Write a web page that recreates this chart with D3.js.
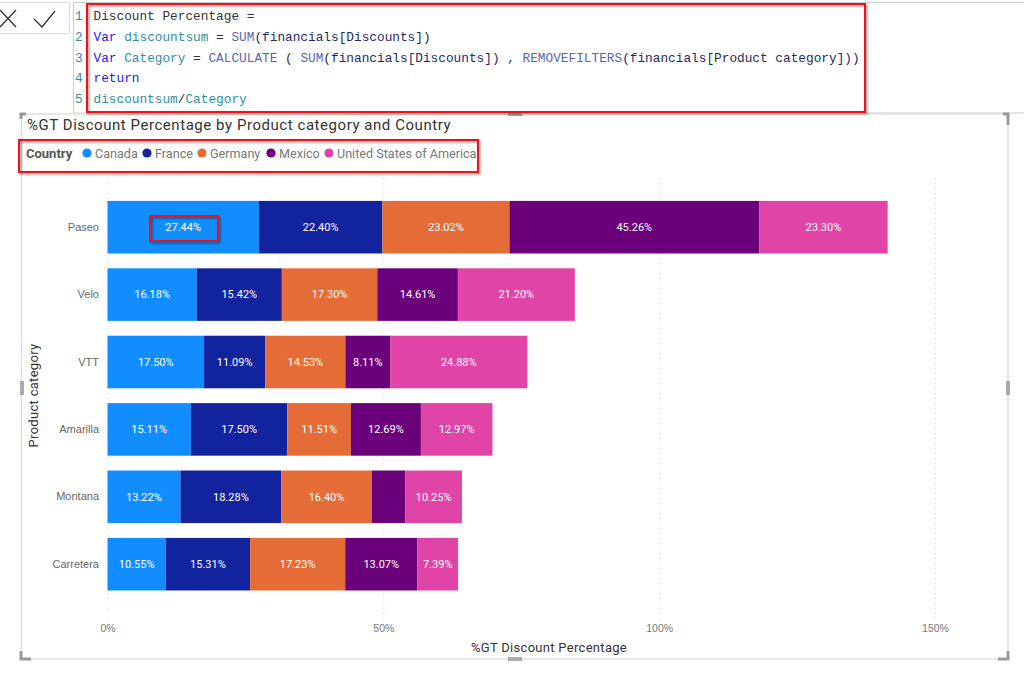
<!DOCTYPE html>
<head>
  <meta charset="utf-8">
  <script src="https://cdn.jsdelivr.net/npm/d3@7"></script>
  <style>
    body { margin: 0; background: #fff; overflow: hidden; }
    svg { display: block; font-family: Roboto, sans-serif; }
    .code text { font-family: "Liberation Mono", monospace; font-size: 12.78px; }
    .axis .domain { display: none; }
    .x.axis line { stroke: #d4d4d4; stroke-dasharray: 1 4; }
    .x.axis text { fill: #777; font-size: 10.5px; }
    .y.axis line { display: none; }
    .y.axis text { fill: #666; font-size: 11px; }
  </style>
</head>

<body>
  <svg width="1024" height="691"></svg>
  <script type="text/javascript">
    var categories = ["Paseo", "Velo", "VTT", "Amarilla", "Montana", "Carretera"]
    var countries = ["Canada", "France", "Germany", "Mexico", "United States of America"]
    var colors = ["#118DFF", "#12239E", "#E66C37", "#6B007B", "#E044A7"]
    var canada = [27.44, 16.18, 17.50, 15.11, 13.22, 10.55]
    var france = [22.40, 15.42, 11.09, 17.50, 18.28, 15.31]
    var germany = [23.02, 17.30, 14.53, 11.51, 16.40, 17.23]
    var mexico = [45.26, 14.61, 8.11, 12.69, 6.10, 13.07]
    var usa = [23.30, 21.20, 24.88, 12.97, 10.25, 7.39]
    var xTicks = [0, 50, 100, 150]

    var keyword = "#2222dd", variable = "#2f8f9f", func = "#5566b5", plain = "#1c2a5e", black = "#333"
    var codeLines = [
      [["Discount Percentage =", black]],
      [["Var ", keyword], ["discountsum", variable], [" = ", black], ["SUM", func], ["(financials[Discounts])", plain]],
      [["Var ", keyword], ["Category", variable], [" = ", black], ["CALCULATE", func], [" ( ", black], ["SUM", func],
        ["(financials[Discounts])", plain], [" , ", black], ["REMOVEFILTERS", func], ["(financials[Product category]))", plain]],
      [["return", keyword]],
      [["discountsum", variable], ["/", black], ["Category", variable]]
    ]

    var svg = d3.select("svg")

    var defs = svg.append("defs")
    defs.append("filter").attr("id", "shadow")
      .attr("x", "-5%").attr("y", "-5%").attr("width", "110%").attr("height", "120%")
      .append("feDropShadow")
      .attr("dx", 1.5).attr("dy", 1.5).attr("stdDeviation", 1.2)
      .attr("flood-color", "#000").attr("flood-opacity", 0.45)

    // formula bar
    function line(x1, y1, x2, y2, color, width) {
      svg.append("line").attr("x1", x1).attr("y1", y1).attr("x2", x2).attr("y2", y2)
        .attr("stroke", color).attr("stroke-width", width || 1)
    }
    line(0, 2.5, 70, 2.5, "#ddd")
    line(0, 33.5, 70, 33.5, "#ddd")
    line(69.5, 2, 69.5, 34, "#ddd")
    line(73.5, 2, 73.5, 113, "#ccc")
    line(73, 2.5, 1024, 2.5, "#ccc")
    line(73, 113, 1024, 113, "#ccc", 1.2)

    svg.append("path").attr("d", "M0 10L16 27M16 10L0 27").attr("fill", "none").attr("stroke", "#333").attr("stroke-width", 1.3)
    svg.append("path").attr("d", "M34 19L42 27L55 11").attr("fill", "none").attr("stroke", "#333").attr("stroke-width", 1.3)

    var code = svg.append("g").attr("class", "code")
    codeLines.forEach(function(tokens, i) {
      var y = 20 + i * 20.8
      code.append("text").attr("x", 75).attr("y", y).attr("fill", "#2f8f9f").text(i + 1)
      var t = code.append("text").attr("x", 93.5).attr("y", y).attr("xml:space", "preserve")
      tokens.forEach(function(tok) {
        t.append("tspan").attr("fill", tok[1]).text(tok[0])
      })
    })

    // visual frame
    svg.append("rect").attr("x", 21.5).attr("y", 114).attr("width", 986.5).attr("height", 545)
      .attr("fill", "none").attr("stroke", "#e0e0e0").attr("stroke-width", 1.5)
    svg.append("path")
      .attr("d", "M21 119V114H26 M1003 114H1008V125 M21 651V659H31 M1008 651V659H998")
      .attr("fill", "none").attr("stroke", "#999").attr("stroke-width", 3)
    svg.append("rect").attr("x", 508).attr("y", 112).attr("width", 14).attr("height", 4).attr("fill", "#aaa")
    svg.append("rect").attr("x", 508).attr("y", 657).attr("width", 14).attr("height", 4).attr("fill", "#aaa")
    svg.append("rect").attr("x", 20).attr("y", 381).attr("width", 4).attr("height", 14).attr("fill", "#aaa")
    svg.append("rect").attr("x", 1006).attr("y", 381).attr("width", 4).attr("height", 14).attr("fill", "#aaa")

    svg.append("text").attr("x", 27).attr("y", 130).attr("fill", "#333").attr("font-size", 15).attr("font-weight", 400)
      .attr("letter-spacing", 0.55)
      .text("%GT Discount Percentage by Product category and Country")

    // legend
    svg.append("text").attr("x", 26).attr("y", 158).attr("fill", "#555").attr("font-size", 13).attr("font-weight", 700).text("Country")
    var legendX = [87, 147, 202, 271, 329]
    countries.forEach(function(c, i) {
      svg.append("circle").attr("cx", legendX[i]).attr("cy", 153).attr("r", 4.6).attr("fill", colors[i])
      svg.append("text").attr("x", legendX[i] + 8).attr("y", 158).attr("fill", "#777").attr("font-size", 12.6).text(c)
    })

    // chart
    var x = d3.scaleLinear().domain([0, 150]).range([107.5, 935])
    var y = d3.scaleBand().domain(categories).range([193.5, 597.9]).paddingInner(0.22).paddingOuter(0.11)

    svg.append("g").attr("class", "x axis").attr("transform", "translate(0,619)")
      .call(d3.axisBottom(x).tickValues(xTicks).tickFormat(function(d) { return d + "%" }).tickSize(-442).tickPadding(6))

    svg.append("g").attr("class", "y axis").attr("transform", "translate(99,0)")
      .call(d3.axisLeft(y).tickSize(0).tickPadding(0))

    var rows = categories.map(function(c, i) {
      return { category: c, Canada: canada[i], France: france[i], Germany: germany[i], Mexico: mexico[i], "United States of America": usa[i] }
    })
    var color = d3.scaleOrdinal().domain(countries).range(colors)
    var series = d3.stack().keys(countries)(rows)

    var groups = svg.selectAll(".series").data(series).enter().append("g").attr("class", "series")
    groups.selectAll("rect").data(function(s) { return s.map(function(d) { return { k: s.key, d: d } }) })
      .enter().append("rect")
      .attr("x", function(r) { return x(r.d[0]) })
      .attr("y", function(r) { return y(r.d.data.category) })
      .attr("width", function(r) { return x(r.d[1]) - x(r.d[0]) })
      .attr("height", y.bandwidth())
      .attr("fill", function(r) { return color(r.k) })
    // labels get dropped when the segment is too narrow, as in the original
    groups.selectAll("text").data(function(s) { return s.filter(function(d) { return x(d[1]) - x(d[0]) > 36 }) })
      .enter().append("text")
      .attr("x", function(d) { return (x(d[0]) + x(d[1])) / 2 })
      .attr("y", function(d) { return y(d.data.category) + y.bandwidth() / 2 })
      .attr("dy", "0.35em").attr("text-anchor", "middle").attr("fill", "#fff").attr("font-size", 11)
      .text(function(d) { return (d[1] - d[0]).toFixed(2) + "%" })

    svg.append("text").attr("transform", "translate(38,395.5) rotate(-90)").attr("text-anchor", "middle")
      .attr("fill", "#333").attr("font-size", 13).attr("font-weight", 400).attr("letter-spacing", 0.3).text("Product category")
    svg.append("text").attr("x", 549).attr("y", 652).attr("text-anchor", "middle")
      .attr("fill", "#333").attr("font-size", 13).attr("font-weight", 400).attr("letter-spacing", 0.3).text("%GT Discount Percentage")

    // red callouts
    var callouts = [[87, 4, 778, 108], [19, 140, 459, 32], [150, 216, 68, 25]]
    callouts.forEach(function(b) {
      svg.append("rect").attr("x", b[0]).attr("y", b[1]).attr("width", b[2]).attr("height", b[3])
        .attr("fill", "none").attr("stroke", "#e8141c").attr("stroke-width", 2).attr("filter", "url(#shadow)")
    })
  </script>
</body>
